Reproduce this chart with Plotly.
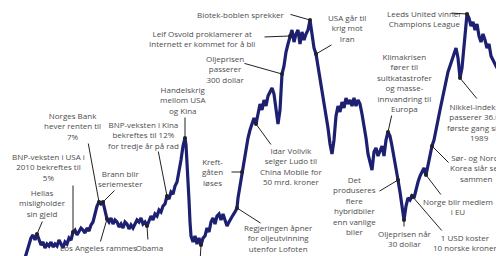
import plotly.graph_objects as go

# ---- data: index level over time (period number) ----
period = [25, 27, 29, 31, 33, 35, 37, 39, 41, 43, 45, 47, 49, 51, 53, 55, 57, 59, 61, 63, 65, 67, 69, 71, 73, 75, 77, 79, 81, 83, 85, 87, 89, 91, 93, 95, 97, 99, 101, 103, 105, 107, 109, 111, 113, 115, 117, 119, 121, 123, 125, 127, 129, 131, 133, 135, 137, 139, 141, 143, 145, 147, 149, 151, 153, 155, 157, 159, 161, 163, 165, 167, 169, 171, 173, 175, 177, 179, 181, 183, 185, 186, 187, 188, 189, 190, 191, 193, 195, 197, 199, 201, 203, 205, 207, 209, 211, 213, 215, 217, 219, 221, 223, 225, 227, 229, 231, 233, 235, 237, 238, 240, 242, 244, 246, 248, 250, 252, 254, 256, 258, 260, 262, 264, 266, 268, 270, 272, 274, 276, 278, 280, 282, 284, 286, 288, 290, 292, 294, 296, 298, 300, 302, 304, 306, 308, 310, 312, 314, 316, 318, 320, 322, 324, 326, 328, 330, 332, 334, 336, 338, 340, 342, 344, 346, 348, 350, 352, 354, 356, 358, 360, 362, 364, 366, 368, 370, 372, 374, 376, 378, 380, 382, 384, 386, 388, 390, 392, 394, 396, 398, 400, 402, 404, 406, 408, 410, 412, 414, 416, 418, 420, 422, 424, 426, 428, 430, 432, 434, 436, 438, 440, 442, 444, 446, 448, 450, 452, 454, 456, 458, 460, 462, 464, 466, 467, 469, 471, 473, 475, 477, 479, 481, 483, 485, 487, 489, 491, 493, 495, 497, 499, 501, 503, 505]
level = [-2, 4, 12, 18, 21, 16, 22, 16, 11, 14, 8, 12, 10, 14, 9, 12, 10, 16, 12, 8, 14, 12, 18, 16, 24, 26, 21, 25, 28, 26, 23, 28, 25, 31, 34, 42, 50, 54, 52, 54, 46, 37, 34, 38, 32, 36, 34, 29, 32, 28, 34, 32, 27, 31, 28, 32, 36, 34, 38, 32, 34, 30, 36, 40, 36, 42, 40, 46, 44, 50, 52, 60, 57, 64, 62, 70, 74, 84, 96, 110, 118, 111, 96, 76, 56, 34, 20, 14, 20, 12, 18, 11, 18, 20, 28, 24, 34, 38, 32, 40, 42, 36, 42, 36, 30, 34, 38, 41, 44, 48, 58, 71, 84, 96, 108, 118, 126, 132, 138, 132, 144, 152, 146, 156, 150, 160, 164, 168, 162, 146, 132, 146, 182, 190, 204, 212, 220, 226, 214, 222, 226, 212, 224, 216, 222, 226, 236, 222, 208, 202, 190, 178, 168, 156, 144, 128, 112, 102, 116, 140, 150, 144, 154, 148, 158, 152, 156, 150, 158, 150, 156, 152, 142, 132, 118, 102, 92, 86, 104, 108, 100, 106, 110, 100, 116, 124, 120, 110, 100, 88, 76, 64, 50, 36, 50, 58, 56, 60, 58, 68, 74, 80, 84, 88, 81, 92, 100, 110, 116, 128, 136, 146, 156, 166, 178, 184, 190, 196, 202, 208, 198, 178, 188, 212, 234, 242, 238, 230, 234, 226, 232, 220, 214, 222, 216, 208, 212, 200, 196, 192, 188, 200, 196, 190, 194]

# ---- events: label text, period on the line ----
event_text = [
    "Biotek-boblen sprekker",
    "Leif Osvold proklamerer at<br>Internett er kommet for å bli",
    "Oljeprisen<br>passerer<br>300 dollar",
    "Handelskrig<br>mellom USA<br>og Kina",
    "USA går til<br>krig mot<br>Iran",
    "Leeds United vinner<br>Champions League",
    "Klimakrisen<br>fører til<br>sultkatastrofer<br>og masse-<br>innvandring til<br>Europa",
    "Nikkel-indeksen<br>passerer 36.000<br>første gang siden<br>1989",
    "Sør- og Nord-<br>Korea slår seg<br>sammen",
    "Norge blir medlem<br>i EU",
    "1 USD koster<br>10 norske kroner",
    "Oljeprisen når<br>30 dollar",
    "Det<br>produseres<br>flere<br>hybridbiler<br>enn vanlige<br>biler",
    "Regjeringen åpner<br>for oljeutvinning<br>utenfor Lofoten",
    "Kreft-<br>gåten<br>løses",
    "Idar Vollvik<br>selger Ludo til<br>China Mobile for<br>50 mrd. kroner",
    "Obama<br>gjenvelges",
    "Los Angeles rammes",
    "Brann blir<br>seriemester",
    "Norges Bank<br>hever renten til<br>7%",
    "BNP-veksten i Kina<br>bekreftes til 12%<br>for tredje år på rad",
    "BNP-veksten i USA i<br>2010 bekreftes til<br>5%",
    "Hellas<br>misligholder<br>sin gjeld",
    "",
]
event_period = [310, 290, 282, 185, 316, 467, 388, 460, 432, 426, 412, 404, 398, 237, 242, 256, 147, 107, 103, 99, 167, 73, 37, 201]

# ---- layout of labels (text centre, arrow tail), in axis units ----
text_pos = [(241, 242), (202, 218), (225, 187), (183, 156), (347, 228), (424, 238),
            (404, 174), (479, 134), (476, 88), (458, 50), (465, 14), (405, 18),
            (354, 51), (278, 18), (212, 84), (291, 90), (149, 4), (98, 9),
            (120, 78), (72, 130), (143, 121), (48, 89), (42, 53), (200, -20)]
tail_pos = [(289, 242), (263, 219), (243, 193), (185, 140), (333, 212), (450, 243),
            (392, 142), (478, 156), (450, 92), (442, 60), (443, 24), (404, 28),
            (378, 64), (262, 32), (230, 84), (272, 110), (148, 15), (100, 13),
            (116, 67), (88, 114), (158, 106), (73, 72), (43, 36), (200, -6)]

lookup = dict(zip(period, level))

fig = go.Figure()
fig.add_trace(go.Scatter(x=period, y=level, mode="lines",
                         line=dict(color="#1d2070", width=3.2), hoverinfo="skip"))

TEXT_COL = "#4d4d4d"
FONT = dict(family="Open Sans, Lato, sans-serif", size=8, color=TEXT_COL)
for txt, per, (tx, ty), (ax, ay) in zip(event_text, event_period, text_pos, tail_pos):
    if txt:
        fig.add_annotation(x=tx, y=ty, xref="x", yref="y", text=txt, showarrow=False,
                           font=FONT, align="center")
    fig.add_annotation(x=per, y=lookup[per], xref="x", yref="y",
                       ax=ax, ay=ay, axref="x", ayref="y", text="",
                       showarrow=True, arrowhead=6, arrowsize=1, arrowwidth=1,
                       arrowcolor="#222222")

# the page body adds an 8px offset; shift the axis windows to compensate
fig.update_layout(
    width=504, height=256,
    margin=dict(l=0, r=0, t=0, b=0),
    paper_bgcolor="white", plot_bgcolor="white",
    showlegend=False,
    xaxis=dict(range=[8, 512], visible=False),
    yaxis=dict(range=[-8, 248], visible=False),
)
fig.write_html("out.html")
